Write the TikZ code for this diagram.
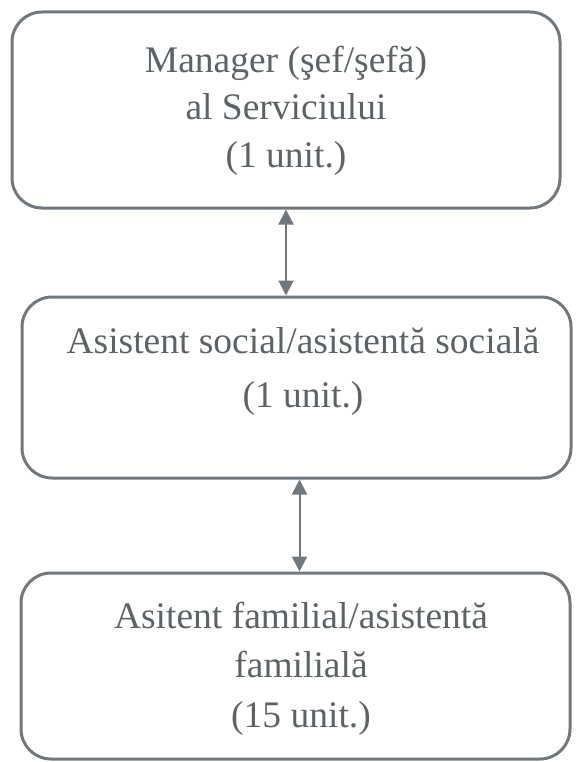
\documentclass[tikz,border=0pt]{standalone}
\usepackage{fontspec}
\setmainfont{Liberation Serif}
\usetikzlibrary{arrows.meta}
\definecolor{boxline}{RGB}{112,120,126}
\definecolor{txt}{RGB}{92,99,103}
\begin{document}
\begin{tikzpicture}[x=1pt,y=-1pt,
  box/.style={draw=boxline, line width=3pt, rounded corners=30pt, inner sep=0pt},
  lbl/.style={text=txt, align=center, inner sep=0pt},
  link/.style={draw=boxline, line width=2pt, {Triangle[width=15pt,length=15pt]}-{Triangle[width=15pt,length=15pt]}}]
\useasboundingbox (0,0) rectangle (575,762);
\node[box, minimum width=548pt, minimum height=196pt] (b1) at (286,110) {};
\node[box, minimum width=549pt, minimum height=181pt] (b2) at (296.5,387.5) {};
\node[box, minimum width=549pt, minimum height=186pt] (b3) at (295.5,666) {};
\node[lbl, font=\fontsize{37.5}{47.5}\selectfont] (t1) at (286,110.5) {Manager (şef/şefă)\\al Serviciului\\(1 unit.)};
\node[lbl, font=\fontsize{37.5}{54}\selectfont] (t2) at (303,371) {Asistent social/asistentă socială\\(1 unit.)};
\node[lbl, font=\fontsize{37.5}{49.5}\selectfont] (t3) at (301,668.5) {Asitent familial/asistentă\\familială\\(15 unit.)};
\draw[link] (b1.south) -- (b1.south |- b2.north);
\draw[link] ([xshift=3pt]b2.south) -- ([xshift=3pt]b2.south |- b3.north);
\end{tikzpicture}
\end{document}
